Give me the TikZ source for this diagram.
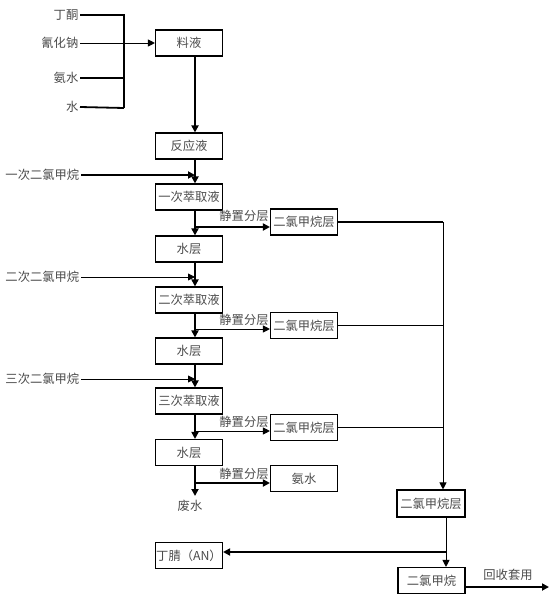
\documentclass[tikz,border=0pt]{standalone}
\usepackage{fontspec}
\setmainfont{Noto Sans CJK SC}
\usetikzlibrary{arrows.meta}
\begin{document}
\begin{tikzpicture}[x=1pt,y=-1pt,
  txt/.style={text=black!70,font=\fontsize{12.3}{13}\selectfont},
  box/.style={txt,draw=black,line width=1.1pt,minimum width=67pt,minimum height=26pt,inner sep=0pt},
  lbl/.style={txt,inner sep=1.5pt},
  thickln/.style={line width=1.8pt},
  thinln/.style={line width=0.9pt},
  arr/.style={-{Triangle[length=7pt,width=7pt]}},
]
\useasboundingbox (0,0) rectangle (553,602);
% main column x for connectors
\coordinate (mx) at (195,0);
\coordinate (rx) at (443,0);
\coordinate (rx2) at (446,0);

% boxes
\node[box] (liao) at (189,43) {料液};
\node[box] (fan) at (189,146) {反应液};
\node[box] (e1) at (189,197) {一次萃取液};
\node[box] (w1) at (189,249) {水层};
\node[box] (e2) at (189,300) {二次萃取液};
\node[box] (w2) at (189,351) {水层};
\node[box] (e3) at (189,401) {三次萃取液};
\node[box] (w3) at (189,452.5) {水层};
\node[box] (d1) at (304,222) {二氯甲烷层};
\node[box] (d2) at (304,325.5) {二氯甲烷层};
\node[box] (d3) at (304,427.5) {二氯甲烷层};
\node[box] (am) at (304,478.5) {氨水};
\node[box,minimum width=68pt,minimum height=27pt] (dr) at (431,503.5) {二氯甲烷层};
\node[box] (dcm) at (431.5,580.5) {二氯甲烷};
\node[box] (an) at (189,555.5) {丁腈（AN）};

% left labels
\node[lbl,anchor=east] (ding) at (80,15) {丁酮};
\node[lbl,anchor=east] (qing) at (80,43) {氰化钠};
\node[lbl,anchor=east] (anshui) at (80,78) {氨水};
\node[lbl,anchor=east] (shui) at (80,107) {水};
\node[lbl,anchor=east] (s1) at (81,175) {一次二氯甲烷};
\node[lbl,anchor=east] (s2) at (81,277) {二次二氯甲烷};
\node[lbl,anchor=east] (s3) at (81,379) {三次二氯甲烷};
\node[lbl] (fei) at (190,506) {废水};
\node[lbl] (hs) at (508,575) {回收套用};
\node[lbl] (j1) at (244,216) {静置分层};
\node[lbl] (j2) at (244,320) {静置分层};
\node[lbl] (j3) at (244,422) {静置分层};
\node[lbl] (j4) at (244,474) {静置分层};

% top merge
\coordinate (t1) at (124,15);
\coordinate (t2) at (124,108);
\draw[thickln] (ding.east) -- (t1) -- (t2);
\draw[thickln] (anshui.east) -- (anshui.east -| t1);
\draw[thickln] (shui.east) -- (t2);
\draw[thinln,arr] (qing.east) -- (liao.west);

% main column
\draw[thickln,arr] (liao.south -| mx) -- (fan.north -| mx);
\draw[thickln,arr] (fan.south -| mx) -- (e1.north -| mx);
\draw[thickln,arr] (s1.east) -- (s1.east -| mx);
\draw[thickln,arr] (e1.south -| mx) -- (w1.north -| mx);
\draw[thickln,arr] (w1.south -| mx) -- (e2.north -| mx);
\draw[thinln,arr] (s2.east) -- (s2.east -| mx);
\draw[thickln,arr] (e2.south -| mx) -- (w2.north -| mx);
\draw[thickln,arr] (w2.south -| mx) -- (e3.north -| mx);
\draw[thinln,arr] (s3.east) -- (s3.east -| mx);
\draw[thickln,arr] (e3.south -| mx) -- (w3.north -| mx);
\coordinate (fz) at (195,496);
\draw[thickln,arr] (w3.south -| mx) -- (fz);

% branches
\coordinate (b1) at (196,227);
\coordinate (b2) at (196,329);
\coordinate (b3) at (196,431);
\coordinate (b4) at (196,483);
\draw[thickln,arr] (b1) -- (d1.west |- b1);
\draw[thinln,arr] (b2) -- (d2.west |- b2);
\draw[thinln,arr] (b3) -- (d3.west |- b3);
\draw[thickln,arr] (b4) -- (am.west |- b4);

% right column
\draw[thickln] (d1.east) -- (d1.east -| rx);
\draw[thickln] (d2.east) -- (d2.east -| rx);
\draw[thickln] (d3.east) -- (d3.east -| rx);
\draw[thinln,arr] (d1.east -| rx) -- (dr.north -| rx);
\draw[thinln,arr] (dr.south -| rx2) -- (dcm.north -| rx2);
\coordinate (h) at (446,552);
\draw[thickln,arr] (h) -- (an.east |- h);
\coordinate (o1) at (465,587);
\coordinate (o2) at (549,587);
\draw[thickln,arr] (o1) -- (o2);
\end{tikzpicture}
\end{document}
